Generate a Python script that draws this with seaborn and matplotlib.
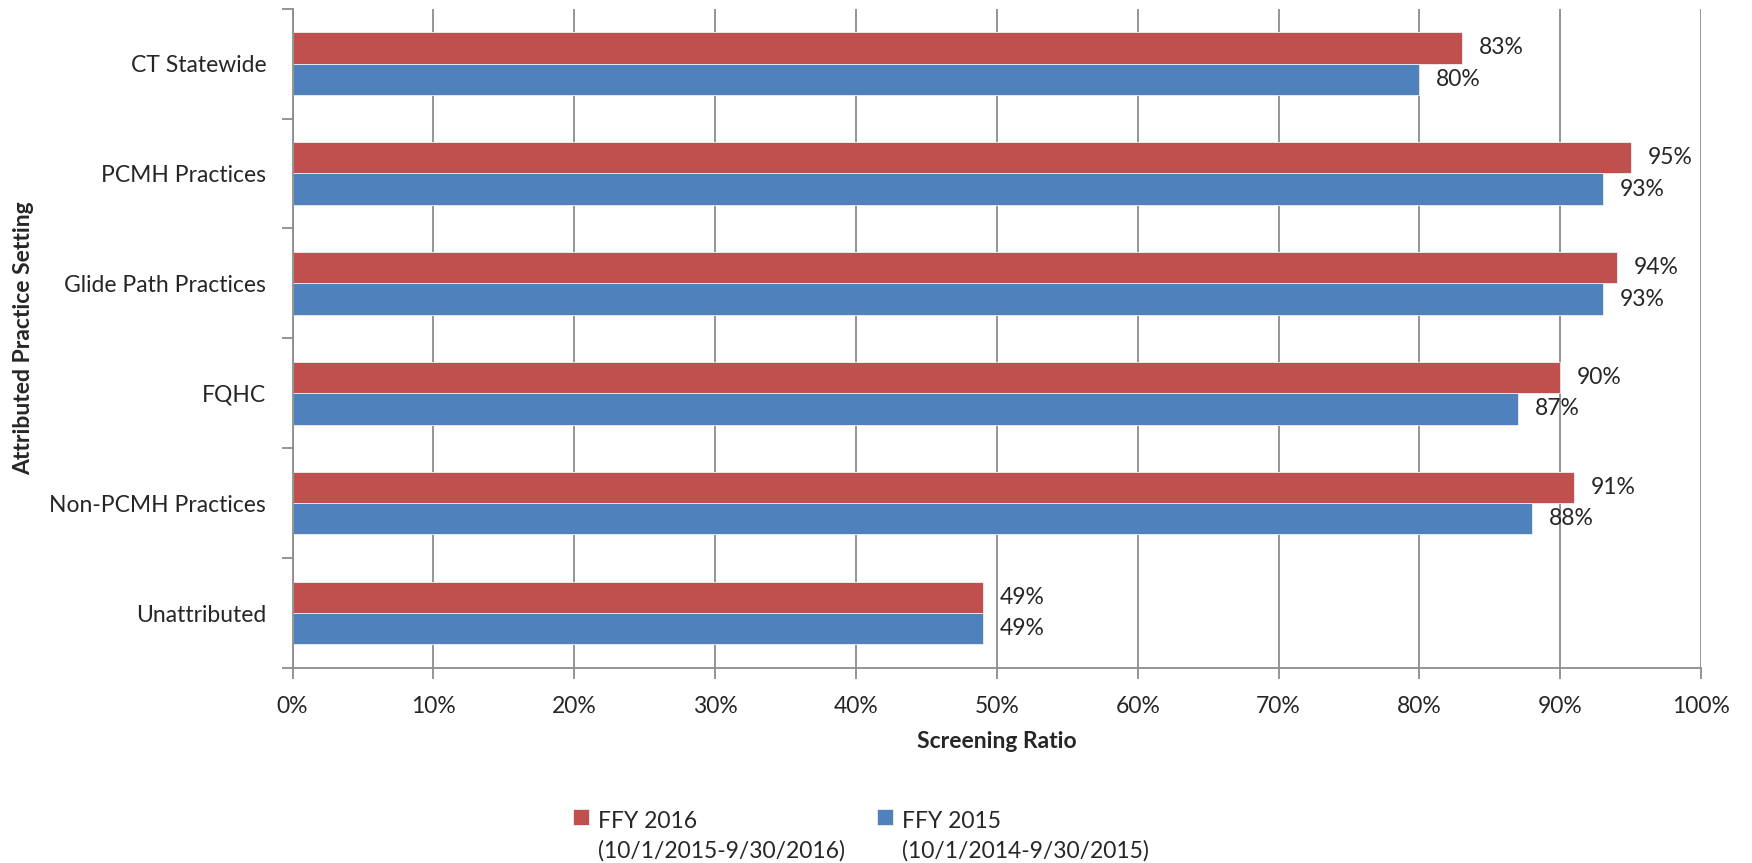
import pandas as pd
import seaborn as sns
import matplotlib.pyplot as plt
from matplotlib.ticker import FixedLocator, PercentFormatter

categories = ["CT Statewide", "PCMH Practices", "Glide Path Practices",
              "FQHC", "Non-PCMH Practices", "Unattributed"]
ffy2016 = [83, 95, 94, 90, 91, 49]
ffy2015 = [80, 93, 93, 87, 88, 49]
series = ["FFY 2016\n(10/1/2015-9/30/2016)", "FFY 2015\n(10/1/2014-9/30/2015)"]
colors = ["#C0504D", "#4F81BD"]

df = pd.DataFrame({
    "Setting": categories * 2,
    "Value": ffy2016 + ffy2015,
    "Series": [series[0]] * len(categories) + [series[1]] * len(categories),
})

sns.set_style("white")
plt.rcParams["font.family"] = ["Lato", "DejaVu Sans"]
fs = 16.5

fig = plt.figure(figsize=(17.52, 8.63), dpi=100)
ax = fig.add_axes([0.167, 0.226, 0.804, 0.764])

sns.barplot(data=df, y="Setting", x="Value", hue="Series", order=categories,
            palette=colors, saturation=1, orient="h", width=0.57, ax=ax,
            edgecolor="#f0f0f0", linewidth=0.6)

for cont in ax.containers:
    ax.bar_label(cont, labels=[f"{v:.0f}%" for v in cont.datavalues],
                 padding=12, fontsize=fs)

ax.set_xlim(0, 100)
ax.set_ylim(len(categories) - 0.5, -0.5)
ax.xaxis.set_major_locator(FixedLocator(range(0, 101, 10)))
ax.xaxis.set_major_formatter(PercentFormatter(decimals=0))
ax.grid(axis="x", color="#8c8c8c", linewidth=1.3)
ax.set_axisbelow(True)

ax.yaxis.set_minor_locator(FixedLocator([i - 0.5 for i in range(len(categories) + 1)]))
ax.tick_params(axis="y", which="major", length=0, labelsize=fs, pad=19)
ax.tick_params(axis="y", which="minor", length=8, width=1.3, color="#8c8c8c", direction="out", left=True)
ax.tick_params(axis="x", length=8, width=1.3, color="#8c8c8c", direction="out", bottom=True,
               labelsize=fs, pad=12)

for s in ["top", "right"]:
    ax.spines[s].set_visible(False)
for s in ["left", "bottom"]:
    ax.spines[s].set_color("#8c8c8c")
    ax.spines[s].set_linewidth(1.3)

ax.set_xlabel("Screening Ratio", fontsize=fs, fontweight="bold", labelpad=10)
ax.set_ylabel("Attributed Practice Setting", fontsize=fs, fontweight="bold", labelpad=11)

leg = ax.legend(loc="upper left", bbox_to_anchor=(0.327, 0.060), bbox_transform=fig.transFigure,
                ncol=2, frameon=False, fontsize=fs, handlelength=0.7, handleheight=0.7,
                columnspacing=1.4, handletextpad=0.4, borderpad=0, borderaxespad=0)
for t in leg.get_texts():
    t.set_linespacing(1.45)
for h in leg.legend_handles:
    h.set_y(h.get_y() + 14.5)

fig.savefig("out.png", dpi=100)
